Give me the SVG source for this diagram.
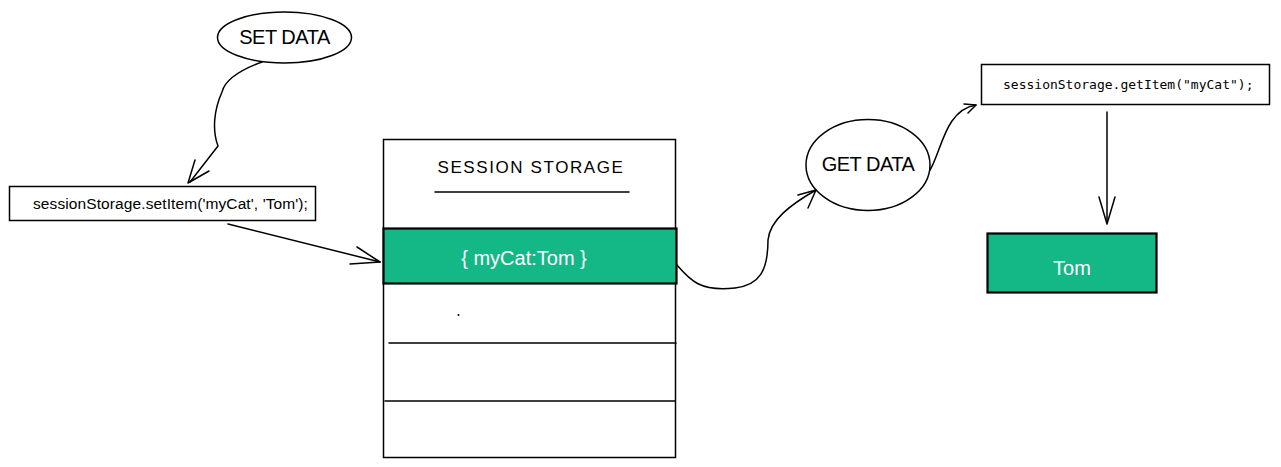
<svg xmlns="http://www.w3.org/2000/svg" width="1281" height="467" viewBox="0 0 1281 467">
<defs>
<style>
.s{fill:none;stroke:#000;stroke-width:1.5;stroke-linecap:round;stroke-linejoin:round}
.b{fill:#fff;stroke:#000;stroke-width:1.5}
.g{fill:#13b886;stroke:#000;stroke-width:2.2}
.t{font-family:"Liberation Sans",Arial,sans-serif;fill:#000}
.w{font-family:"Liberation Sans",Arial,sans-serif;fill:#fff}
.m{font-family:"DejaVu Sans Mono","Liberation Mono",monospace;fill:#000}
</style>
</defs>
<rect width="1281" height="467" fill="#fff"/>
<g id="set-data">
<ellipse cx="284.5" cy="37.5" rx="67" ry="25.5" class="b"/>
<text x="284.5" y="44" class="t" font-size="20" text-anchor="middle" letter-spacing="-0.5">SET DATA</text>
</g>
<g id="set-item">
<rect x="9.5" y="186.5" width="306" height="34" class="b"/>
<text x="33" y="209" class="t" font-size="15.5" letter-spacing="0.1">sessionStorage.setItem('myCat', 'Tom');</text>
</g>
<g id="session-storage">
<rect x="383.5" y="139.5" width="292" height="318" class="b"/>
<text x="531" y="173" class="t" font-size="17" text-anchor="middle" letter-spacing="1.6">SESSION STORAGE</text>
<line x1="435" y1="192" x2="629" y2="192" class="s"/>
<rect x="383.5" y="228.5" width="293" height="55" class="g"/>
<text x="524" y="265" class="w" font-size="20" text-anchor="middle">{ myCat:Tom }</text>
<line x1="389" y1="343" x2="676" y2="343" class="s"/>
<line x1="385" y1="401" x2="675" y2="401" class="s"/>
<circle cx="458.5" cy="315" r="1" fill="#000"/>
</g>
<g id="get-data">
<ellipse cx="868" cy="165" rx="62" ry="45.5" class="b" stroke-width="2.4"/>
<text x="868" y="171" class="t" font-size="20" text-anchor="middle" letter-spacing="-0.5">GET DATA</text>
</g>
<g id="get-item">
<rect x="981.5" y="64.5" width="288" height="40" class="b" stroke-width="2.2"/>
<text x="1003" y="89" class="m" font-size="13">sessionStorage.getItem("myCat");</text>
</g>
<g id="tom">
<rect x="987.5" y="233.5" width="169" height="59" class="g"/>
<text x="1072" y="275" class="w" font-size="20" text-anchor="middle">Tom</text>
</g>
<g id="connectors">
<path d="M262 62 C240 70 225 80 222 92 C214 110 212 130 218 146 L190 182" class="s"/>
<path d="M188 183 L195 160 M188 183 L209 171" class="s"/>
<path d="M228 224 L380 262" class="s"/>
<path d="M380 262 L357 247 M380 262 L350 264" class="s"/>
<path d="M677 265 C690 280 700 292 735 288 C760 285 768 270 768 240 C770 220 790 205 816 190" class="s" stroke-width="2.2"/>
<path d="M816 190 L798 195 M816 190 L808 208" class="s" stroke-width="2.2"/>
<path d="M930 170 C942 150 945 110 976 105" class="s" stroke-width="2"/>
<path d="M976 105 L964 104 M976 105 L968 113" class="s" stroke-width="2"/>
<path d="M1107 112 L1107 222" class="s" stroke-width="2.4"/>
<path d="M1107 224 L1099 197 M1107 224 L1115 197" class="s" stroke-width="2"/>
</g>
</svg>
